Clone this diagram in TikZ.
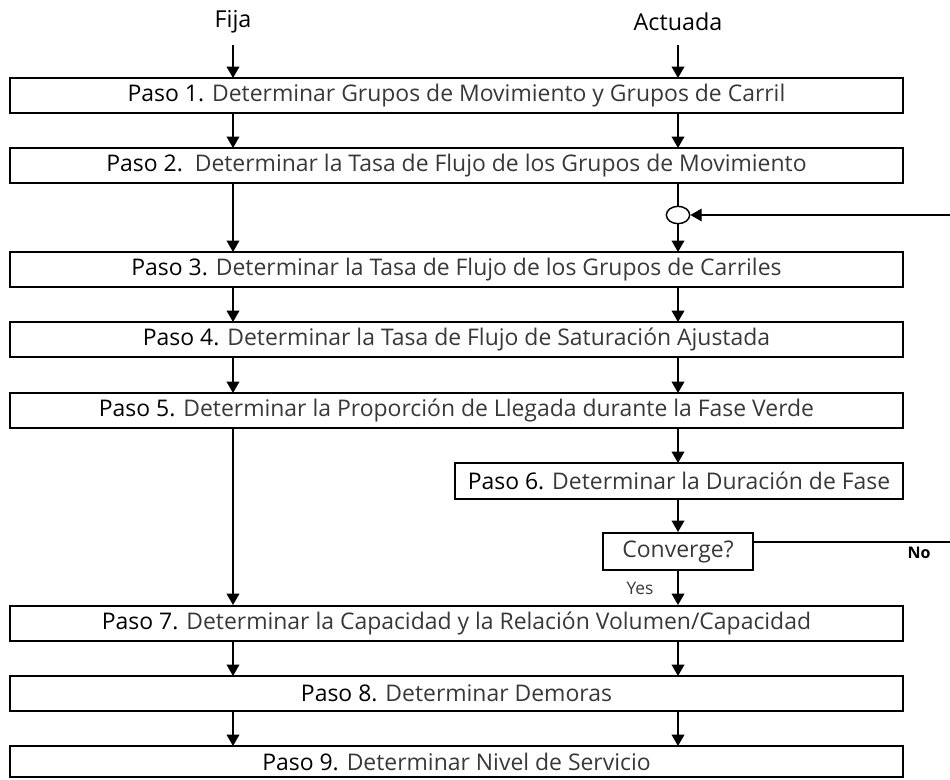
\documentclass[tikz,border=0pt]{standalone}
\usepackage{fontspec}
\setmainfont{Open Sans}
\usetikzlibrary{arrows.meta,shapes.geometric}
\begin{document}
\begin{tikzpicture}[x=0.75pt,y=-0.75pt,
  stepbox/.style={draw,line width=1.5pt,inner sep=0pt,font=\fontsize{17.2}{19}\selectfont},
  wide/.style={stepbox,minimum width=669.75pt,minimum height=26.25pt},
  conn/.style={line width=1.1pt,-{Triangle[width=9.5pt,length=8.5pt]}},
  plain/.style={line width=1.1pt},
  lbl/.style={font=\fontsize{17.5}{20}\selectfont}
]
\useasboundingbox (0,0) rectangle (950,780);
\node[lbl] (fija) at (233,22) {Fija};
\node[lbl] (act) at (678,22) {Actuada};
\coordinate (fijaS) at (233,45);
\coordinate (actS) at (678,45);

\node[wide] (b1) at (456.5,95.5) {Paso 1. {\color{black!78}Determinar Grupos de Movimiento y Grupos de Carril}};
\node[wide] (b2) at (456.5,165.5) {Paso 2.\ \ {\color{black!78}Determinar la Tasa de Flujo de los Grupos de Movimiento}};
\node[wide] (b3) at (456.5,269.5) {Paso 3. {\color{black!78}Determinar la Tasa de Flujo de los Grupos de Carriles}};
\node[wide] (b4) at (456.5,339.5) {Paso 4. {\color{black!78}Determinar la Tasa de Flujo de Saturación Ajustada}};
\node[wide] (b5) at (456.5,410.5) {Paso 5. {\color{black!78}Determinar la Proporción de Llegada durante la Fase Verde}};
\node[stepbox,minimum width=336pt,minimum height=27pt] (b6) at (679,481) {Paso 6. {\color{black!78}Determinar la Duración de Fase}};
\node[stepbox,minimum width=112.5pt,minimum height=27.75pt] (conv) at (678,551.5) {\color{black!78}Converge?};
\node[wide] (b7) at (456.5,623) {Paso 7. {\color{black!78}Determinar la Capacidad y la Relación Volumen/Capacidad}};
\node[wide] (b8) at (456.5,693.5) {Paso 8. {\color{black!78}Determinar Demoras}};
\node[wide,minimum height=23.25pt] (b9) at (456.5,761.5) {Paso 9. {\color{black!78}Determinar Nivel de Servicio}};

\node[draw,ellipse,line width=1.1pt,minimum width=17.5pt,minimum height=13pt,inner sep=0pt] (circ) at (678,215) {};

% left column
\draw[conn] (fijaS) -- (233,78);
\draw[conn] (233,113) -- (233,148);
\draw[conn] (233,183) -- (233,252);
\draw[conn] (233,287) -- (233,322);
\draw[conn] (233,357) -- (233,393);
\draw[conn] (233,428) -- (233,605);
\draw[conn] (233,641) -- (233,676);
\draw[conn] (233,711) -- (233,746);

% right column
\draw[conn] (actS) -- (678,78);
\draw[conn] (678,113) -- (678,148);
\draw[plain] (678,183) -- (circ.north);
\draw[conn] (circ.south) -- (678,252);
\draw[conn] (678,287) -- (678,322);
\draw[conn] (678,357) -- (678,393);
\draw[conn] (678,428) -- (678,463);
\draw[conn] (678,499) -- (conv.north);
\draw[conn] (conv.south) -- (678,605);
\draw[conn] (678,641) -- (678,676);
\draw[conn] (678,711) -- (678,746);

% loop
\coordinate (noE) at (950,542);
\coordinate (backE) at (950,215);
\draw[plain] (conv.east |- noE) -- (noE);
\draw[conn] (backE) -- (circ.east);
\node (no) at (919,553) {\fontsize{12}{14}\selectfont\bfseries No};
\node (yes) at (640,588) {\fontsize{13}{15}\selectfont\color{black!78}Yes};
\end{tikzpicture}
\end{document}
